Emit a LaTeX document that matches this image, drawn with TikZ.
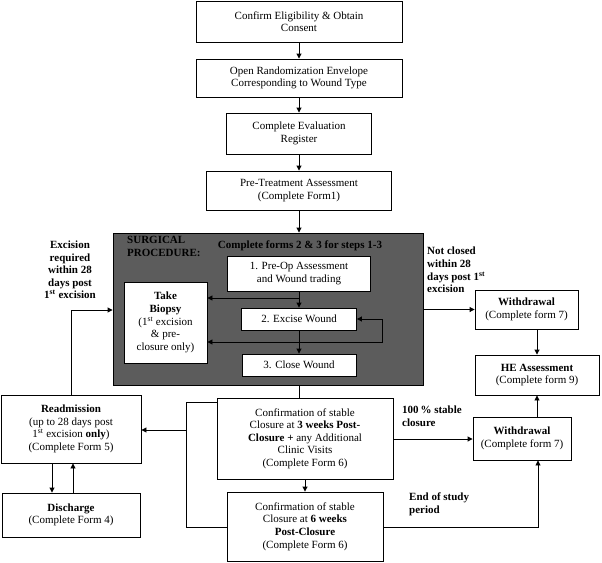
\documentclass[tikz,border=0pt]{standalone}
\usepackage{fontspec}
\setmainfont{Liberation Serif}
\usetikzlibrary{arrows.meta,calc}
\begin{document}
\begin{tikzpicture}[x=1pt,y=-1pt,
  every node/.style={font=\fontsize{11}{12.6}\selectfont},
  box/.style={draw=black,line width=0.9pt,fill=white,align=center,inner sep=1pt},
  lbl/.style={font=\fontsize{11}{12.6}\selectfont\bfseries,inner sep=0pt},
  arr/.style={-{Triangle[length=5pt,width=5pt]},line width=0.9pt},
  ln/.style={line width=0.9pt}]
\useasboundingbox (0,0) rectangle (602,562);
% top chain
\node[box,minimum width=206,minimum height=41] (b1) at (299,21.5) {Confirm Eligibility \& Obtain\\Consent};
\node[box,minimum width=206,minimum height=38] (b2) at (299,78) {Open Randomization Envelope\\Corresponding to Wound Type};
\node[box,minimum width=145,minimum height=41] (b3) at (299,133.5) {Complete Evaluation\\Register};
\node[box,minimum width=185,minimum height=39] (b4) at (299,190.5) {Pre-Treatment Assessment\\(Complete Form1)};
% surgical box
\node[draw=black,line width=0.9pt,fill=black!64,minimum width=310,minimum height=152,inner sep=0pt] (surg) at (268,309) {};
\node[lbl,anchor=north west,align=left] (surglbl) at (127,236) {SURGICAL\\PROCEDURE:};
\node[lbl] (forms) at (300,246) {Complete forms 2 \& 3 for steps 1-3};
\node[box,minimum width=143,minimum height=35] (preop) at (299,273.5) {1. Pre-Op Assessment\\and Wound trading};
\node[box,minimum width=83,minimum height=81] (biopsy) at (165.5,322.5) {\textbf{Take}\\\textbf{Biopsy}\\(1\textsuperscript{st} excision\\\& pre-\\closure only)};
\node[box,minimum width=115,minimum height=22] (excise) at (299,319) {2. Excise Wound};
\node[box,minimum width=114,minimum height=22] (close) at (299,365) {3. Close Wound};
% right side
\node[box,minimum width=103,minimum height=39] (wtop) at (526.5,309.5) {\textbf{Withdrawal}\\(Complete form 7)};
\node[box,minimum width=124,minimum height=40] (he) at (537,375) {\textbf{HE Assessment}\\(Complete form 9)};
\node[box,minimum width=98,minimum height=43] (wbot) at (522,438.5) {\textbf{Withdrawal}\\(Complete form 7)};
% bottom
\node[box,minimum width=176,minimum height=81] (conf3) at (305,438.5) {Confirmation of stable\\Closure at \textbf{3 weeks Post-}\\\textbf{Closure +} any Additional\\Clinic Visits\\(Complete Form 6)};
\node[box,minimum width=156,minimum height=69] (conf6) at (305,526.5) {Confirmation of stable\\Closure at \textbf{6 weeks}\\\textbf{Post-Closure}\\(Complete Form 6)};
% left
\node[box,minimum width=140,minimum height=68] (readm) at (71,429) {\textbf{Readmission}\\(up to 28 days post\\1\textsuperscript{st} excision \textbf{only})\\(Complete Form 5)};
\node[box,minimum width=138,minimum height=44] (disch) at (71,515) {\textbf{Discharge}\\(Complete Form 4)};
% labels
\node[lbl,align=center] (exlbl) at (70,270) {Excision\\required\\within 28\\days post\\1\textsuperscript{st} excision};
\node[lbl,align=left,anchor=north west] (nclbl) at (427,247) {Not closed\\within 28\\days post 1\textsuperscript{st}\\excision};
\node[lbl,align=left,anchor=north west] (stlbl) at (402,406) {100\,\% stable\\closure};
\node[lbl,align=left,anchor=north west] (eslbl) at (409,493) {End of study\\period};
% connectors top
\draw[arr] (b1) -- (b2);
\draw[arr] (b2) -- (b3);
\draw[arr] (b3) -- (b4);
\draw[arr] (b4) -- (surg.north -| b4);
% inside surgical
\coordinate (j1) at (299,298);
\coordinate (j2) at (299,342);
\coordinate (lp1) at (382,342);
\coordinate (lp2) at (382,319);
\draw[ln] (preop.south) -- (j1);
\draw[arr] (j1) -- (excise.north);
\draw[arr] (j1) -- (j1 -| biopsy.east);
\draw[ln] (excise.south) -- (j2);
\draw[arr] (j2) -- (close.north);
\draw[arr] (j2) -- (j2 -| biopsy.east);
\draw[arr] (j2) -- (lp1) -- (lp2) -- (excise.east);
% surgical to right
\draw[arr] (surg.east |- wtop) -- (wtop.west);
\draw[arr] (wtop.south -| he) -- (he.north);
\draw[arr] (wbot.north -| he) -- (he.south);
% surgical down
\draw[ln] (surg.south -| b4) -- (conf3.north -| b4);
\draw[arr] (conf3) -- (conf6);
\draw[arr] (conf3.east |- 0,439) -- (wbot.west |- 0,439);
\coordinate (es) at (538,527);
\draw[arr] (conf6.east |- es) -- (es) -- (wbot.south -| es);
% left bracket
\coordinate (bk1) at (186,402);
\coordinate (bk2) at (186,527);
\coordinate (bk3) at (186,430);
\draw[ln] (conf3.west |- bk1) -- (bk1) -- (bk2) -- (conf6.west |- bk2);
\draw[arr] (bk3) -- (readm.east |- bk3);
% readmission / discharge
\coordinate (ex1) at (71,310);
\draw[arr] (readm.north) -- (ex1) -- (surg.west |- ex1);
\draw[arr] (readm.south -| 52,0) -- (disch.north -| 52,0);
\draw[arr] (disch.north -| 73,0) -- (readm.south -| 73,0);
\end{tikzpicture}
\end{document}
